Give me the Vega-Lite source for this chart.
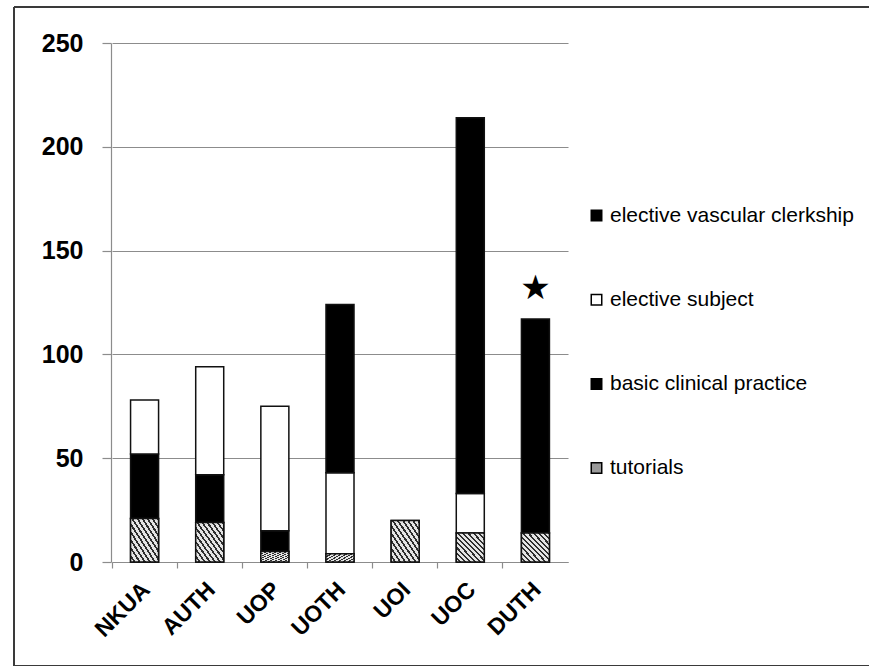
{
  "$schema": "https://vega.github.io/schema/vega-lite/v6.json",
  "autosize": {"type": "none"},
  "padding": {"left": 14, "top": 7, "right": 0, "bottom": 0},
  "width": 855,
  "height": 659,
  "view": {"stroke": "#3a3a3a", "strokeWidth": 2, "strokeDash": [855, 659, 1514, 0]},
  "datasets": {
    "hours": [
      {"uni": "NKUA", "part": "tutorials", "k": 1, "hours": 21},
      {"uni": "NKUA", "part": "basic clinical practice", "k": 2, "hours": 31},
      {"uni": "NKUA", "part": "elective subject", "k": 3, "hours": 26},
      {"uni": "AUTH", "part": "tutorials", "k": 1, "hours": 19},
      {"uni": "AUTH", "part": "basic clinical practice", "k": 2, "hours": 23},
      {"uni": "AUTH", "part": "elective subject", "k": 3, "hours": 52},
      {"uni": "UOP", "part": "tutorials", "k": 1, "hours": 5},
      {"uni": "UOP", "part": "basic clinical practice", "k": 2, "hours": 10},
      {"uni": "UOP", "part": "elective subject", "k": 3, "hours": 60},
      {"uni": "UOTH", "part": "tutorials", "k": 1, "hours": 4},
      {"uni": "UOTH", "part": "elective subject", "k": 3, "hours": 39},
      {"uni": "UOTH", "part": "elective vascular clerkship", "k": 4, "hours": 81},
      {"uni": "UOI", "part": "tutorials", "k": 1, "hours": 20},
      {"uni": "UOC", "part": "tutorials", "k": 1, "hours": 14},
      {"uni": "UOC", "part": "elective subject", "k": 3, "hours": 19},
      {"uni": "UOC", "part": "elective vascular clerkship", "k": 4, "hours": 181},
      {"uni": "DUTH", "part": "tutorials", "k": 1, "hours": 14},
      {"uni": "DUTH", "part": "basic clinical practice", "k": 2, "hours": 103}
    ],
    "notes": [
      {"uni": "DUTH", "total": 117, "symbol": "★"}
    ]
  },
  "encoding": {
    "x": {
      "field": "uni",
      "type": "nominal",
      "sort": ["NKUA", "AUTH", "UOP", "UOTH", "UOI", "UOC", "DUTH"],
      "scale": {"range": [98, 554], "paddingInner": 0, "paddingOuter": 0},
      "axis": {
        "title": null,
        "orient": "bottom",
        "offset": -104,
        "bandPosition": 0,
        "tickSize": 6,
        "grid": false,
        "labelAngle": -45,
        "labelFont": "Liberation Sans",
        "labelFontWeight": "bold",
        "labelFontSize": 23,
        "labelColor": "black",
        "labelOffset": -6,
        "labelPadding": 10
      }
    },
    "y": {
      "type": "quantitative",
      "scale": {"domain": [0, 250], "range": [555, 36], "nice": false},
      "axis": {
        "title": null,
        "offset": -97,
        "values": [0, 50, 100, 150, 200, 250],
        "tickSize": 9,
        "labelPadding": 19,
        "labelFont": "Liberation Sans",
        "labelFontWeight": "bold",
        "labelFontSize": 25,
        "labelColor": "black",
        "grid": true,
        "gridWidth": 1.2
      }
    }
  },
  "layer": [
    {
      "data": {"name": "hours"},
      "mark": {"type": "bar", "stroke": "#111", "strokeWidth": 1.5, "width": {"band": 0.43}},
      "encoding": {
        "y": {"field": "hours", "type": "quantitative", "aggregate": "sum", "stack": "zero"},
        "fill": {
          "field": "part",
          "type": "nominal",
          "scale": {
            "domain": ["elective vascular clerkship", "elective subject", "basic clinical practice", "tutorials"],
            "range": ["#000000", "#ffffff", "#000000", "#9a9a9a"]
          },
          "legend": {
            "orient": "none",
            "legendX": 572,
            "legendY": 198,
            "title": null,
            "padding": 0,
            "symbolType": "square",
            "symbolSize": 110,
            "symbolStrokeColor": "black",
            "symbolStrokeWidth": 1.5,
            "labelFont": "Liberation Sans",
            "labelFontSize": 21,
            "labelColor": "black",
            "labelOffset": 3,
            "labelLimit": 0,
            "rowPadding": 62.2
          }
        },
        "order": {"field": "k", "type": "quantitative", "sort": "ascending"}
      }
    },
    {
      "data": {"name": "hours"},
      "transform": [{"filter": "datum.part === 'tutorials'"}],
      "mark": {
        "type": "bar",
        "stroke": "#111",
        "strokeWidth": 1.5,
        "width": {"band": 0.43},
        "fill": {
          "gradient": "linear",
          "x1": 0, "y1": 1, "x2": 1, "y2": 0,
          "stops": [
            {"offset": 0, "color": "#e4e4e4"}, {"offset": 0.0545, "color": "#e4e4e4"}, {"offset": 0.0545, "color": "#2e2e2e"}, {"offset": 0.0909, "color": "#2e2e2e"},
            {"offset": 0.0909, "color": "#e4e4e4"}, {"offset": 0.1455, "color": "#e4e4e4"}, {"offset": 0.1455, "color": "#2e2e2e"}, {"offset": 0.1818, "color": "#2e2e2e"},
            {"offset": 0.1818, "color": "#e4e4e4"}, {"offset": 0.2364, "color": "#e4e4e4"}, {"offset": 0.2364, "color": "#2e2e2e"}, {"offset": 0.2727, "color": "#2e2e2e"},
            {"offset": 0.2727, "color": "#e4e4e4"}, {"offset": 0.3273, "color": "#e4e4e4"}, {"offset": 0.3273, "color": "#2e2e2e"}, {"offset": 0.3636, "color": "#2e2e2e"},
            {"offset": 0.3636, "color": "#e4e4e4"}, {"offset": 0.4182, "color": "#e4e4e4"}, {"offset": 0.4182, "color": "#2e2e2e"}, {"offset": 0.4545, "color": "#2e2e2e"},
            {"offset": 0.4545, "color": "#e4e4e4"}, {"offset": 0.5091, "color": "#e4e4e4"}, {"offset": 0.5091, "color": "#2e2e2e"}, {"offset": 0.5455, "color": "#2e2e2e"},
            {"offset": 0.5455, "color": "#e4e4e4"}, {"offset": 0.6, "color": "#e4e4e4"}, {"offset": 0.6, "color": "#2e2e2e"}, {"offset": 0.6364, "color": "#2e2e2e"},
            {"offset": 0.6364, "color": "#e4e4e4"}, {"offset": 0.6909, "color": "#e4e4e4"}, {"offset": 0.6909, "color": "#2e2e2e"}, {"offset": 0.7273, "color": "#2e2e2e"},
            {"offset": 0.7273, "color": "#e4e4e4"}, {"offset": 0.7818, "color": "#e4e4e4"}, {"offset": 0.7818, "color": "#2e2e2e"}, {"offset": 0.8182, "color": "#2e2e2e"},
            {"offset": 0.8182, "color": "#e4e4e4"}, {"offset": 0.8727, "color": "#e4e4e4"}, {"offset": 0.8727, "color": "#2e2e2e"}, {"offset": 0.9091, "color": "#2e2e2e"},
            {"offset": 0.9091, "color": "#e4e4e4"}, {"offset": 0.9636, "color": "#e4e4e4"}, {"offset": 0.9636, "color": "#2e2e2e"}, {"offset": 1, "color": "#2e2e2e"}
          ]
        }
      },
      "encoding": {
        "y": {"field": "hours", "type": "quantitative", "stack": null}
      }
    },
    {
      "data": {"name": "notes"},
      "mark": {"type": "text", "font": "DejaVu Sans", "fontSize": 34, "baseline": "middle", "align": "center", "dy": -30, "color": "black"},
      "encoding": {
        "y": {"field": "total", "type": "quantitative"},
        "text": {"field": "symbol", "type": "nominal"}
      }
    }
  ],
  "config": {
    "axis": {
      "domainColor": "#8c8c8c",
      "domainWidth": 1.2,
      "tickColor": "#8c8c8c",
      "tickWidth": 1.2,
      "gridColor": "#8c8c8c"
    }
  }
}
